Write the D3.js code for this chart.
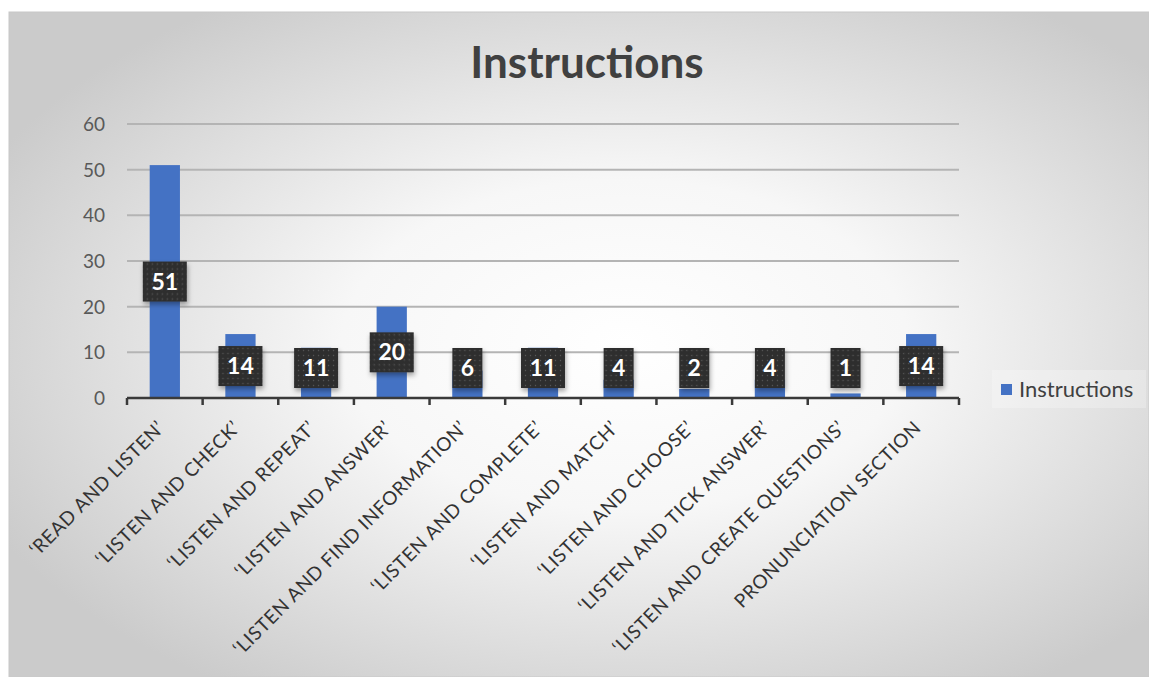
<!DOCTYPE html>
<html>
<head>
<meta charset="utf-8">
<script src="https://cdn.jsdelivr.net/npm/d3@7"></script>
<style>
  body { margin: 0; background: #fff; }
  svg { display: block; }
</style>
</head>
<body>
<div id="chart"></div>
<script>
// chart data
const categories = [
    '\u2018READ AND LISTEN\u2019',
    '\u2018LISTEN AND CHECK\u2019',
    '\u2018LISTEN AND REPEAT\u2019',
    '\u2018LISTEN AND ANSWER\u2019',
    '\u2018LISTEN AND FIND INFORMATION\u2019',
    '\u2018LISTEN AND COMPLETE\u2019',
    '\u2018LISTEN AND MATCH\u2019',
    '\u2018LISTEN AND CHOOSE\u2019',
    '\u2018LISTEN AND TICK ANSWER\u2019',
    '\u2018LISTEN AND CREATE QUESTIONS\u2019',
    'PRONUNCIATION SECTION'
]
const values = [51, 14, 11, 20, 6, 11, 4, 2, 4, 1, 14]
const yTicks = [0, 10, 20, 30, 40, 50, 60]
const seriesName = 'Instructions'

const width = 1149
const height = 677
const font = 'Lato, "Open Sans", sans-serif'

const svg = d3.select('#chart')
    .append('svg')
    .attr('width', width)
    .attr('height', height)

const defs = svg.append('defs')
const bg = defs.append('radialGradient')
    .attr('id', 'bg')
    .attr('cx', '0.54').attr('cy', '0.5').attr('r', '0.62')
bg.append('stop').attr('offset', '0%').attr('stop-color', '#ffffff')
bg.append('stop').attr('offset', '40%').attr('stop-color', '#f7f7f7')
bg.append('stop').attr('offset', '100%').attr('stop-color', '#cbcbcb')

// dotted texture for the data label boxes
const dots = defs.append('pattern')
    .attr('id', 'dots')
    .attr('width', 5).attr('height', 5)
    .attr('patternUnits', 'userSpaceOnUse')
dots.append('rect').attr('width', 5).attr('height', 5).attr('fill', '#2f2f2f')
dots.append('circle').attr('cx', 2.5).attr('cy', 2.5).attr('r', 0.7).attr('fill', '#565656')

const shadow = defs.append('filter').attr('id', 'shadow')
    .attr('x', '-30%').attr('y', '-30%').attr('width', '160%').attr('height', '170%')
shadow.append('feDropShadow')
    .attr('dx', 1).attr('dy', 3).attr('stdDeviation', 2.5)
    .attr('flood-color', '#000').attr('flood-opacity', 0.35)

svg.append('rect')
    .attr('x', 9).attr('y', 12)
    .attr('width', width - 9).attr('height', height - 12)
    .attr('fill', 'url(#bg)')
    .attr('stroke', '#c8c8c8')

// title
svg.append('text')
    .attr('x', 587).attr('y', 78)
    .attr('text-anchor', 'middle')
    .attr('font-family', font)
    .attr('font-weight', 'bold')
    .attr('font-size', 44)
    .attr('fill', '#404040')
    .text('Instructions')

const x = d3.scaleBand()
    .domain(categories)
    .range([127, 959])
    .paddingInner(0.6)
    .paddingOuter(0.3)

const y = d3.scaleLinear()
    .domain([0, 60])
    .range([398, 124])

// gridlines
svg.append('g')
    .selectAll('line')
    .data(yTicks.filter(t => t > 0))
    .enter()
    .append('line')
    .attr('x1', 127).attr('x2', 959)
    .attr('y1', d => y(d)).attr('y2', d => y(d))
    .attr('stroke', '#b4b4b4')
    .attr('stroke-width', 2)

// y labels
svg.append('g')
    .selectAll('text')
    .data(yTicks)
    .enter()
    .append('text')
    .attr('x', 105)
    .attr('y', d => y(d) + 7)
    .attr('text-anchor', 'end')
    .attr('font-family', font)
    .attr('font-size', 19)
    .attr('fill', '#595959')
    .text(d => d)

// bars
svg.append('g')
    .selectAll('rect')
    .data(values)
    .enter()
    .append('rect')
    .attr('x', (d, i) => x(categories[i]))
    .attr('y', d => y(d))
    .attr('width', x.bandwidth())
    .attr('height', d => y(0) - y(d))
    .attr('fill', '#4472c4')

// x axis line with ticks at category boundaries
const step = x.step()
const boundaries = categories.map(c => x(c) - step * 0.3).concat([959])
const axis = svg.append('g')
axis.append('line')
    .attr('x1', 127).attr('x2', 959)
    .attr('y1', y(0)).attr('y2', y(0))
    .attr('stroke', '#3a3a3a')
    .attr('stroke-width', 2.5)
axis.selectAll('.tick')
    .data(boundaries)
    .enter()
    .append('line')
    .attr('x1', d => d).attr('x2', d => d)
    .attr('y1', y(0)).attr('y2', y(0) + 7)
    .attr('stroke', '#3a3a3a')
    .attr('stroke-width', 2.5)

// category labels
svg.append('g')
    .selectAll('text')
    .data(categories)
    .enter()
    .append('text')
    .attr('transform', d => `translate(${x(d) + x.bandwidth() / 2 + 1},${y(0) + 31}) rotate(-45)`)
    .attr('text-anchor', 'end')
    .attr('font-family', font)
    .attr('font-size', 19)
    .attr('letter-spacing', 0.6)
    .attr('fill', '#333')
    .text(d => d)

// data labels
const labels = svg.append('g')
    .selectAll('g')
    .data(values)
    .enter()
    .append('g')
    .attr('transform', (d, i) => {
        const cx = x(categories[i]) + x.bandwidth() / 2
        const cy = Math.min(y(d / 2), 368)
        return `translate(${cx},${cy})`
    })

labels.append('rect')
    .attr('x', d => -(String(d).length * 14 + 16) / 2)
    .attr('y', -20)
    .attr('width', d => String(d).length * 14 + 16)
    .attr('height', 40)
    .attr('fill', 'url(#dots)')
    .attr('filter', 'url(#shadow)')

labels.append('text')
    .attr('y', 8)
    .attr('text-anchor', 'middle')
    .attr('font-family', font)
    .attr('font-weight', 'bold')
    .attr('font-size', 23)
    .attr('fill', '#fff')
    .text(d => d)

// legend
const legend = svg.append('g')
legend.append('rect')
    .attr('x', 992).attr('y', 370)
    .attr('width', 154).attr('height', 38)
    .attr('fill', '#ffffff').attr('opacity', 0.25)
legend.append('rect')
    .attr('x', 1001).attr('y', 384)
    .attr('width', 11).attr('height', 11)
    .attr('fill', '#4472c4')
legend.append('text')
    .attr('x', 1019).attr('y', 397)
    .attr('font-family', font)
    .attr('font-size', 22)
    .attr('fill', '#404040')
    .text(seriesName)
</script>
</body>
</html>
